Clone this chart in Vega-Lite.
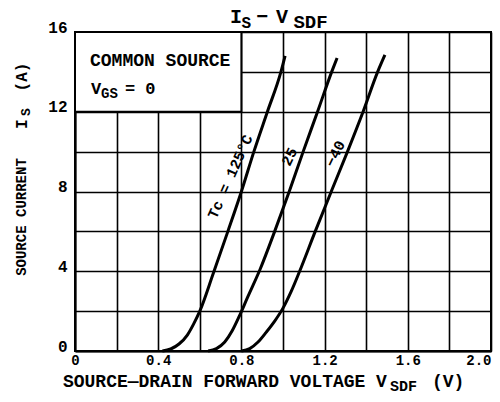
{
  "$schema": "https://vega.github.io/schema/vega-lite/v6.json",
  "width": 416,
  "height": 319,
  "autosize": "none",
  "padding": {"left": 75, "top": 32, "right": 9, "bottom": 51},
  "background": "white",
  "data": {"values": [{}]},
  "config": {
    "font": "Liberation Mono",
    "view": {"stroke": "black", "strokeWidth": 2},
    "axis": {
      "gridColor": "black", "gridWidth": 1.6, "gridOpacity": 1,
      "domainColor": "black", "domainWidth": 2, "ticks": false,
      "labelFont": "Liberation Mono", "labelFontWeight": "bold", "labelColor": "black",
      "labelOverlap": false, "labelFlush": false, "title": null
    },
    "axisX": {
      "tickCount": 10, "labelFontSize": 14, "labelPadding": 2,
      "labelAlign": {"expr": "datum.value == 2 ? 'right' : 'center'"},
      "labelExpr": "round(datum.value*10) % 4 == 0 ? (datum.value == 0 ? '0' : format(datum.value, '.1f')) : ''"
    },
    "axisY": {
      "tickCount": 8, "labelFontSize": 16, "labelPadding": 8, "labelBaseline": "alphabetic",
      "labelExpr": "datum.value % 4 == 0 ? datum.label : ''"
    },
    "text": {"font": "Liberation Mono", "fontWeight": "bold", "color": "black"}
  },
  "datasets": {
    "curves": [
      {"tc": "125", "v": 0.42, "i": 0},
      {"tc": "125", "v": 0.46, "i": 0.1},
      {"tc": "125", "v": 0.50, "i": 0.35},
      {"tc": "125", "v": 0.54, "i": 0.8},
      {"tc": "125", "v": 0.57, "i": 1.35},
      {"tc": "125", "v": 0.60, "i": 2.0},
      {"tc": "125", "v": 0.665, "i": 3.9},
      {"tc": "125", "v": 0.735, "i": 6},
      {"tc": "125", "v": 0.80, "i": 8},
      {"tc": "125", "v": 0.86, "i": 10},
      {"tc": "125", "v": 0.925, "i": 12},
      {"tc": "125", "v": 0.99, "i": 14},
      {"tc": "125", "v": 1.01, "i": 14.8},
      {"tc": "25", "v": 0.64, "i": 0},
      {"tc": "25", "v": 0.68, "i": 0.12},
      {"tc": "25", "v": 0.72, "i": 0.45},
      {"tc": "25", "v": 0.755, "i": 1.0},
      {"tc": "25", "v": 0.79, "i": 1.75},
      {"tc": "25", "v": 0.83, "i": 2.7},
      {"tc": "25", "v": 0.89, "i": 4.1},
      {"tc": "25", "v": 0.96, "i": 6},
      {"tc": "25", "v": 1.03, "i": 8},
      {"tc": "25", "v": 1.097, "i": 10},
      {"tc": "25", "v": 1.166, "i": 12},
      {"tc": "25", "v": 1.234, "i": 14},
      {"tc": "25", "v": 1.26, "i": 14.7},
      {"tc": "-40", "v": 0.80, "i": 0},
      {"tc": "-40", "v": 0.84, "i": 0.12},
      {"tc": "-40", "v": 0.88, "i": 0.45},
      {"tc": "-40", "v": 0.92, "i": 0.95},
      {"tc": "-40", "v": 0.96, "i": 1.5},
      {"tc": "-40", "v": 1.0, "i": 2.15},
      {"tc": "-40", "v": 1.04, "i": 3.0},
      {"tc": "-40", "v": 1.08, "i": 4},
      {"tc": "-40", "v": 1.155, "i": 6},
      {"tc": "-40", "v": 1.232, "i": 8},
      {"tc": "-40", "v": 1.31, "i": 10},
      {"tc": "-40", "v": 1.385, "i": 12},
      {"tc": "-40", "v": 1.455, "i": 14},
      {"tc": "-40", "v": 1.49, "i": 14.85}
    ]
  },
  "layer": [
    {
      "data": {"name": "curves"},
      "mark": {"type": "line", "color": "black", "strokeWidth": 3, "interpolate": "monotone"},
      "encoding": {
        "x": {"field": "v", "type": "quantitative", "scale": {"domain": [0, 2], "nice": false, "zero": false}},
        "y": {"field": "i", "type": "quantitative", "scale": {"domain": [0, 16], "nice": false, "zero": false}},
        "detail": {"field": "tc", "type": "nominal"}
      }
    },
    {
      "mark": {"type": "rect", "fill": "white", "stroke": "black", "strokeWidth": 2},
      "encoding": {
        "x": {"datum": 0, "type": "quantitative", "scale": {"domain": [0, 2], "nice": false, "zero": false}},
        "x2": {"datum": 0.8},
        "y": {"datum": 12, "type": "quantitative", "scale": {"domain": [0, 16], "nice": false, "zero": false}},
        "y2": {"datum": 16}
      }
    },
    {
      "mark": {"type": "text", "fontSize": 18, "align": "left", "baseline": "alphabetic"},
      "encoding": {
        "x": {"datum": 0.072, "type": "quantitative"},
        "y": {"datum": 14.3, "type": "quantitative"},
        "text": {"value": "COMMON SOURCE"}
      }
    },
    {
      "mark": {"type": "text", "fontSize": 17, "align": "left", "baseline": "alphabetic"},
      "encoding": {
        "x": {"datum": 0.077, "type": "quantitative"},
        "y": {"datum": 12.9, "type": "quantitative"},
        "text": {"value": "V"}
      }
    },
    {
      "mark": {"type": "text", "fontSize": 14, "align": "left", "baseline": "alphabetic"},
      "encoding": {
        "x": {"datum": 0.125, "type": "quantitative"},
        "y": {"datum": 12.7, "type": "quantitative"},
        "text": {"value": "GS"}
      }
    },
    {
      "mark": {"type": "text", "fontSize": 17, "align": "left", "baseline": "alphabetic"},
      "encoding": {
        "x": {"datum": 0.24, "type": "quantitative"},
        "y": {"datum": 12.9, "type": "quantitative"},
        "text": {"value": "= 0"}
      }
    },
    {
      "mark": {"type": "text", "fontSize": 15, "align": "center", "baseline": "middle", "angle": 294},
      "encoding": {
        "x": {"datum": 0.745, "type": "quantitative"},
        "y": {"datum": 8.75, "type": "quantitative"},
        "text": {"value": "Tc = 125°C"}
      }
    },
    {
      "mark": {"type": "text", "fontSize": 15, "align": "center", "baseline": "middle", "angle": 296},
      "encoding": {
        "x": {"datum": 1.03, "type": "quantitative"},
        "y": {"datum": 9.75, "type": "quantitative"},
        "text": {"value": "25"}
      }
    },
    {
      "mark": {"type": "text", "fontSize": 15, "align": "center", "baseline": "middle", "angle": 296},
      "encoding": {
        "x": {"datum": 1.25, "type": "quantitative"},
        "y": {"datum": 9.9, "type": "quantitative"},
        "text": {"value": "−40"}
      }
    },
    {
      "mark": {"type": "text", "fontSize": 20, "align": "left", "baseline": "alphabetic"},
      "encoding": {
        "x": {"datum": 0.745, "type": "quantitative"},
        "y": {"datum": 16.45, "type": "quantitative"},
        "text": {"value": "I"}
      }
    },
    {
      "mark": {"type": "text", "fontSize": 16, "align": "left", "baseline": "alphabetic"},
      "encoding": {
        "x": {"datum": 0.80, "type": "quantitative"},
        "y": {"datum": 16.2, "type": "quantitative"},
        "text": {"value": "S"}
      }
    },
    {
      "mark": {"type": "text", "fontSize": 20, "align": "center", "baseline": "alphabetic"},
      "encoding": {
        "x": {"datum": 0.9, "type": "quantitative"},
        "y": {"datum": 16.45, "type": "quantitative"},
        "text": {"value": "−"}
      }
    },
    {
      "mark": {"type": "text", "fontSize": 20, "align": "left", "baseline": "alphabetic"},
      "encoding": {
        "x": {"datum": 0.966, "type": "quantitative"},
        "y": {"datum": 16.45, "type": "quantitative"},
        "text": {"value": "V"}
      }
    },
    {
      "mark": {"type": "text", "fontSize": 19, "align": "left", "baseline": "alphabetic"},
      "encoding": {
        "x": {"datum": 1.05, "type": "quantitative"},
        "y": {"datum": 16.2, "type": "quantitative"},
        "text": {"value": "SDF"}
      }
    },
    {
      "mark": {"type": "text", "fontSize": 14, "align": "center", "baseline": "middle", "angle": 270},
      "encoding": {
        "x": {"datum": -0.255, "type": "quantitative"},
        "y": {"datum": 6.72, "type": "quantitative"},
        "text": {"value": "SOURCE CURRENT"}
      }
    },
    {
      "mark": {"type": "text", "fontSize": 16, "align": "center", "baseline": "middle", "angle": 270},
      "encoding": {
        "x": {"datum": -0.255, "type": "quantitative"},
        "y": {"datum": 11.38, "type": "quantitative"},
        "text": {"value": "I"}
      }
    },
    {
      "mark": {"type": "text", "fontSize": 13, "align": "center", "baseline": "middle", "angle": 270},
      "encoding": {
        "x": {"datum": -0.236, "type": "quantitative"},
        "y": {"datum": 11.98, "type": "quantitative"},
        "text": {"value": "S"}
      }
    },
    {
      "mark": {"type": "text", "fontSize": 16, "align": "center", "baseline": "middle", "angle": 270},
      "encoding": {
        "x": {"datum": -0.255, "type": "quantitative"},
        "y": {"datum": 13.74, "type": "quantitative"},
        "text": {"value": "(A)"}
      }
    },
    {
      "mark": {"type": "text", "fontSize": 18, "align": "left", "baseline": "alphabetic"},
      "encoding": {
        "x": {"datum": -0.058, "type": "quantitative"},
        "y": {"datum": -1.8, "type": "quantitative"},
        "text": {"value": "SOURCE—DRAIN FORWARD VOLTAGE"}
      }
    },
    {
      "mark": {"type": "text", "fontSize": 18, "align": "left", "baseline": "alphabetic"},
      "encoding": {
        "x": {"datum": 1.447, "type": "quantitative"},
        "y": {"datum": -1.8, "type": "quantitative"},
        "text": {"value": "V"}
      }
    },
    {
      "mark": {"type": "text", "fontSize": 15, "align": "left", "baseline": "alphabetic"},
      "encoding": {
        "x": {"datum": 1.514, "type": "quantitative"},
        "y": {"datum": -2.0, "type": "quantitative"},
        "text": {"value": "SDF"}
      }
    },
    {
      "mark": {"type": "text", "fontSize": 18, "align": "left", "baseline": "alphabetic"},
      "encoding": {
        "x": {"datum": 1.716, "type": "quantitative"},
        "y": {"datum": -1.8, "type": "quantitative"},
        "text": {"value": "(V)"}
      }
    }
  ]
}
